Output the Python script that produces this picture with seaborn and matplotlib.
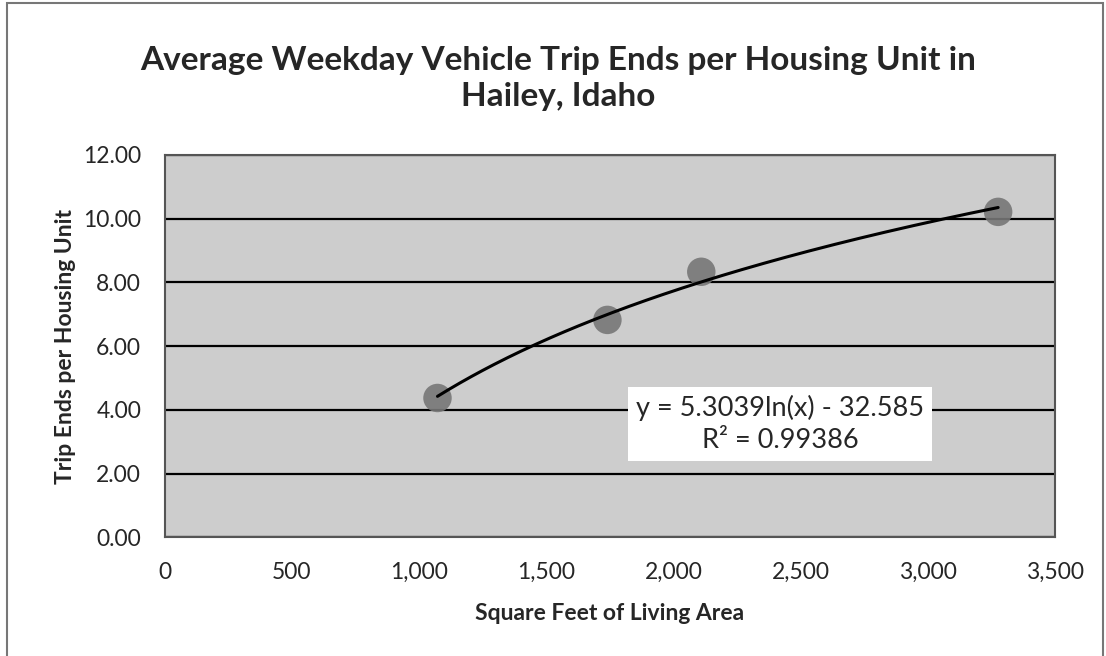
import numpy as np
import pandas as pd
import matplotlib.pyplot as plt
import seaborn as sns
from matplotlib.patches import Rectangle
from matplotlib.ticker import FuncFormatter

sns.set_style('white')
plt.rcParams['font.family'] = ['Lato', 'DejaVu Sans']

# data
sq_feet = [1072, 1740, 2109, 3276]
trip_ends = [4.37, 6.82, 8.33, 10.21]

# Excel log trendline as printed on the chart
coef_a = 5.3039
coef_b = -32.585
r_squared = 0.99386

x_ticks = [0, 500, 1000, 1500, 2000, 2500, 3000, 3500]
y_ticks = [0, 2, 4, 6, 8, 10, 12]

df = pd.DataFrame({'sqft': sq_feet, 'trips': trip_ends})
xs = np.linspace(min(sq_feet), max(sq_feet), 200)
trend = pd.DataFrame({'sqft': xs, 'trips': coef_a * np.log(xs) + coef_b})

fig = plt.figure(figsize=(11.06, 6.56), dpi=100)
ax = fig.add_axes([0.149, 0.181, 0.805, 0.583])
ax.set_facecolor('#cdcdcd')

sns.scatterplot(data=df, x='sqft', y='trips', ax=ax, s=420, color='#777777',
                edgecolor='none', alpha=0.9, zorder=3)
sns.lineplot(data=trend, x='sqft', y='trips', ax=ax, color='black', lw=2.2, zorder=4)

ax.set_xlim(0, 3500)
ax.set_ylim(0, 12)
ax.set_xticks(x_ticks)
ax.set_yticks(y_ticks)
ax.xaxis.set_major_formatter(FuncFormatter(lambda v, p: f'{int(v):,}'))
ax.yaxis.set_major_formatter(FuncFormatter(lambda v, p: f'{v:.2f}'))
ax.tick_params(axis='both', labelsize=16.5, length=4, color='#555555', direction='out')
ax.tick_params(axis='x', pad=14)
ax.tick_params(axis='y', pad=13)
ax.grid(axis='y', color='black', lw=1.6)
ax.set_axisbelow(True)
for s in ax.spines.values():
    s.set_color('#555555')
    s.set_linewidth(1.5)

ax.set_xlabel('Square Feet of Living Area', fontsize=16.5, fontweight='bold', labelpad=14)
ax.set_ylabel('Trip Ends per Housing Unit', fontsize=16.5, fontweight='bold', labelpad=5)

fig.text(0.505, 0.88, 'Average Weekday Vehicle Trip Ends per Housing Unit in\nHailey, Idaho',
         ha='center', va='center', fontsize=24, fontweight='bold', linespacing=1.3)

ax.text(2419, 3.55, f'y = {coef_a}ln(x) - {-coef_b}\nR² = {r_squared}',
        fontsize=19.5, ha='center', va='center', linespacing=1.35, zorder=5,
        bbox=dict(boxstyle='square,pad=0.3', fc='white', ec='none'))

# outer chart border
fig.patches.append(Rectangle((0.006, -0.01), 0.991, 1.005, transform=fig.transFigure,
                             fill=False, ec='#777777', lw=1.5))

fig.savefig('out.png', dpi=100)
